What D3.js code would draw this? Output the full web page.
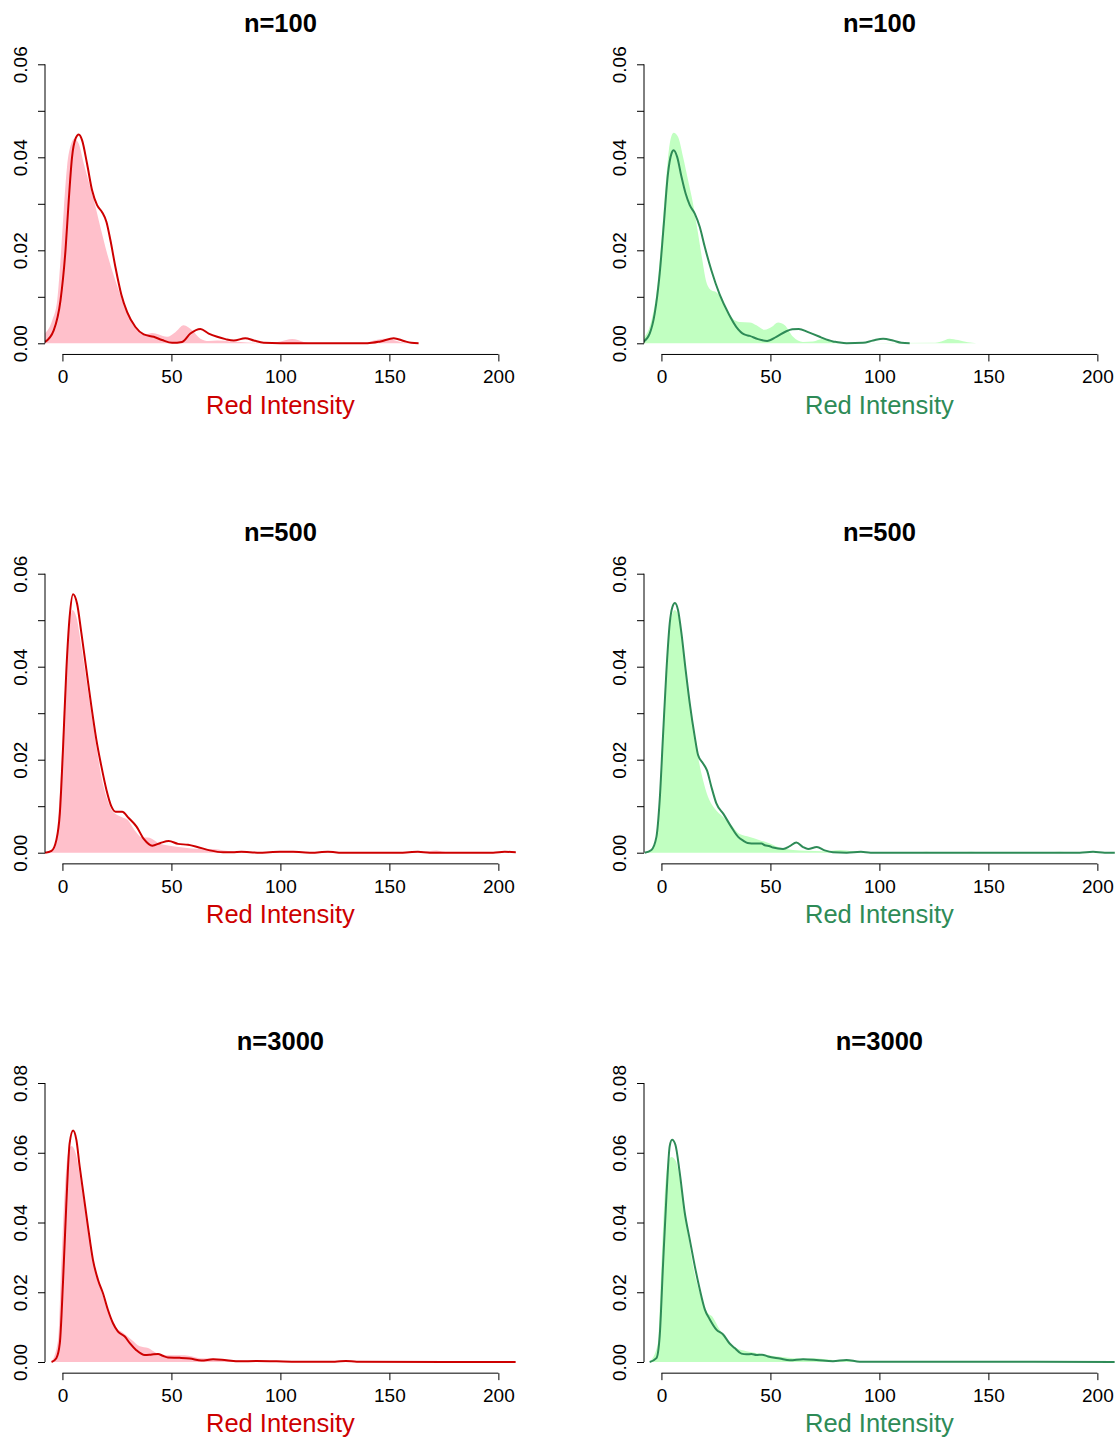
<!DOCTYPE html>
<html>
<head>
<meta charset="utf-8">
<script src="https://cdn.jsdelivr.net/npm/d3@7"></script>
<style>
  html, body { margin: 0; padding: 0; background: #ffffff; }
  svg text { font-family: "Liberation Sans", Arial, Helvetica, sans-serif; }
</style>
</head>
<body>
<svg id="chart" width="1117" height="1439"></svg>
<script>
// ---- density estimates, [intensity, density] ----
// n = 100
const pink100Fill = [[-8,0.0021],[-4.7,0.0049],[-2.4,0.0092],[-0.9,0.0178],[0.6,0.0286],[2.1,0.0379],[4.0,0.0429],[5.5,0.0440],[7.5,0.0429],[9.8,0.0386],[12.1,0.0347],[14.4,0.0308],[17.4,0.0250],[20.5,0.0193],[24.3,0.0135],[28.1,0.0085],[32.0,0.0046],[35.8,0.0024],[38.1,0.0019],[41.1,0.0022],[44.2,0.0019],[48.0,0.0014],[51.8,0.0024],[55.6,0.0039],[59.5,0.0028],[63.3,0.0010],[67.1,0.0005],[71.0,0.0006],[77.1,0.0004],[81.7,0.0003],[87.8,0.0001],[92.3,0],[96,0.0001],[100,0.0004],[105.4,0.0009],[110.7,0.0003],[115,0],[138.2,0],[142.8,0.0006],[147.4,0.0010],[151.2,0.0008],[155,0.0003],[159.6,0]];
const red100Line = [[-8,0.0003],[-4,0.0028],[-0.9,0.0092],[1.4,0.0200],[2.9,0.0308],[4.4,0.0400],[6.0,0.0440],[7.5,0.0449],[9.0,0.0437],[11.3,0.0386],[13.6,0.0329],[15.9,0.0297],[18.2,0.0282],[20.2,0.0261],[22.0,0.0222],[24.3,0.0164],[27.0,0.0105],[29.7,0.0067],[33.5,0.0035],[37.3,0.0019],[41.9,0.0014],[45.7,0.0007],[50.3,0.0001],[54.9,0.0003],[58.7,0.0021],[63.3,0.0031],[67.1,0.0021],[71.0,0.0014],[74.8,0.0009],[78.6,0.0006],[83.9,0.0011],[87.8,0.0006],[92.3,0.0001],[100,0],[140,0],[145.9,0.0004],[152.0,0.0011],[156.6,0.0005],[160,0.0001],[163.4,0]];
const green100Fill = [[-8.4,0.0010],[-4.6,0.0049],[-2.3,0.0107],[0,0.0222],[2.0,0.0344],[3.8,0.0429],[5.6,0.0453],[7.6,0.0444],[9.9,0.0401],[12.2,0.0351],[14.5,0.0300],[16.8,0.0236],[18.8,0.0178],[20.6,0.0132],[22.9,0.0114],[25.2,0.0110],[27.5,0.0096],[29.8,0.0075],[32.8,0.0053],[35.9,0.0046],[40.5,0.0045],[43.6,0.0039],[47.4,0.0029],[50.5,0.0035],[53.5,0.0045],[56.6,0.0039],[60.4,0.0014],[64.9,0.0003],[69.5,0.0004],[74.1,0.0010],[78.7,0.0004],[84,0.0001],[90,0],[124.6,0.0001],[128.4,0.0004],[132.2,0.0010],[136.1,0.0007],[140.6,0.0002],[144.5,0]];
const seagreen100Line = [[-8.4,0.0003],[-5.4,0.0021],[-3.1,0.0064],[-0.8,0.0150],[1.1,0.0257],[3.0,0.0365],[4.6,0.0408],[5.6,0.0415],[7.2,0.0401],[9.2,0.0358],[11.1,0.0322],[13.0,0.0297],[15.3,0.0279],[17.6,0.0250],[19.9,0.0207],[22.9,0.0157],[26.7,0.0105],[31.0,0.0062],[34.4,0.0035],[38.0,0.0019],[40.5,0.0016],[44.3,0.0009],[48.5,0.0005],[52.7,0.0014],[57.3,0.0026],[60.0,0.0030],[63.0,0.0031],[67.3,0.0024],[72.6,0.0014],[74.1,0.0011],[78.7,0.0004],[80.3,0.0003],[84.9,0],[92.5,0.0001],[97.1,0.0006],[101.7,0.0010],[106.2,0.0006],[110.1,0.0001],[113.9,0]];

// n = 500
const pink500Fill = [[-8,0],[-3.5,0.0012],[-2.0,0.0070],[-0.5,0.0185],[1.1,0.0342],[2.9,0.0471],[4.6,0.0522],[6.4,0.0507],[8.7,0.0443],[11.0,0.0371],[13.3,0.0299],[15.6,0.0228],[17.9,0.0163],[20.2,0.0120],[23.2,0.0088],[27.1,0.0077],[30.1,0.0070],[33.2,0.0048],[36.2,0.0034],[40.0,0.0032],[43.9,0.0021],[49.2,0.0015],[55.3,0.0011],[63,0.0008],[69.1,0.0008],[74,0.0005],[78,0.0003],[86,0.0001],[95,0.0001],[100,0.0002],[110,0.0001],[130,0],[165,0],[168,0.0003],[171.6,0.0005],[175,0.0002],[180,0],[208,0]];
const red500Line = [[-8,0],[-5.0,0.0004],[-2.8,0.0027],[-1.2,0.0084],[0.3,0.0228],[1.8,0.0393],[3.3,0.0507],[4.9,0.0556],[6.7,0.0536],[8.7,0.0472],[11.0,0.0393],[13.3,0.0314],[15.6,0.0242],[17.9,0.0185],[20.2,0.0135],[22.5,0.0099],[24.4,0.0088],[27.4,0.0088],[30.5,0.0074],[34.0,0.0056],[37.4,0.0029],[41.2,0.0015],[45.0,0.0021],[48.8,0.0025],[53.0,0.0019],[57.6,0.0017],[61.5,0.0013],[67.6,0.0005],[73.7,0.0001],[78,0.0001],[82.1,0.0002],[86,0.0001],[90.5,0],[95,0.0001],[99.7,0.0002],[105.8,0.0002],[110,0.0001],[115,0],[118,0.0001],[121.8,0.0002],[125,0.0001],[127.5,0],[155,0],[159,0.0001],[163.1,0.0002],[168.5,0],[197.6,0],[202.9,0.0002],[208.3,0.0001]];
const green500Fill = [[-7.7,0],[-3.9,0.0009],[-1.6,0.0056],[0,0.0199],[1.5,0.0342],[3.0,0.0450],[4.6,0.0507],[6.1,0.0522],[7.9,0.0507],[9.9,0.0443],[12.2,0.0357],[14.5,0.0278],[16.8,0.0206],[19.1,0.0156],[21.4,0.0120],[24.4,0.0095],[28.3,0.0077],[32.1,0.0059],[35.9,0.0040],[40.5,0.0034],[45.1,0.0027],[49.7,0.0020],[54.3,0.0011],[60.4,0.0006],[66.5,0.0004],[74.1,0.0003],[81.8,0.0006],[87.9,0.0003],[95,0.0001],[110,0],[118,0.0001],[121.6,0.0002],[125,0.0001],[138,0.0001],[142.2,0.0002],[146,0.0001],[178,0.0001],[182.7,0.0002],[187,0.0001],[208,0]];
const seagreen500Line = [[-7.7,0],[-4.6,0.0006],[-2.3,0.0034],[-0.8,0.0113],[0.7,0.0249],[2.3,0.0392],[3.8,0.0493],[5.0,0.0528],[6.2,0.0537],[7.6,0.0522],[9.2,0.0471],[11.1,0.0393],[13.0,0.0321],[15.3,0.0249],[16.8,0.0210],[19.1,0.0192],[20.9,0.0177],[22.9,0.0142],[25.2,0.0106],[28.5,0.0083],[32.1,0.0055],[35.2,0.0034],[37.5,0.0026],[39.5,0.0021],[41.3,0.0020],[43.6,0.0020],[45.9,0.0020],[47.4,0.0016],[49.7,0.0014],[51.2,0.0011],[55.8,0.0008],[58.9,0.0014],[61.9,0.0022],[65.0,0.0012],[67.3,0.0008],[71.3,0.0012],[74.9,0.0005],[78.7,0.0001],[85,0],[91.5,0.0002],[96,0],[191.9,0],[198,0.0002],[203.4,0],[208.5,0]];

// n = 3000
const pink3000Fill = [[-5,0],[-2.0,0.0064],[-0.5,0.0284],[1.1,0.0494],[2.6,0.0600],[4.1,0.0619],[6.4,0.0591],[8.7,0.0505],[11.0,0.0419],[14.0,0.0293],[17.1,0.0217],[20.2,0.0160],[24.0,0.0103],[27.8,0.0084],[31.7,0.0064],[35.5,0.0045],[39.3,0.0040],[43.1,0.0026],[49.2,0.0019],[56.1,0.0019],[63.0,0.0011],[70.6,0.0010],[78.3,0.0006],[90.5,0.0004],[101,0.0002],[120,0.0001],[208,0]];
const red3000Line = [[-5.0,0],[-2.8,0.0011],[-1.2,0.0054],[0.3,0.0235],[1.8,0.0455],[3.3,0.0627],[4.9,0.0664],[6.4,0.0637],[7.9,0.0561],[9.8,0.0475],[11.7,0.0389],[14.0,0.0293],[16.3,0.0236],[18.6,0.0197],[20.9,0.0149],[23.2,0.0111],[25.5,0.0087],[28.6,0.0073],[30.9,0.0054],[33.9,0.0034],[37.8,0.0020],[40.5,0.0021],[43.9,0.0023],[46,0.0018],[48.4,0.0013],[53.8,0.0012],[58.4,0.0010],[63.8,0.0004],[69.1,0.0008],[75.2,0.0005],[81.3,0.0002],[89.0,0.0003],[98.2,0.0002],[108,0.0001],[125,0.0001],[130,0.0003],[135,0.0001],[208,0]];
const green3000Fill = [[-5.4,0],[-1.6,0.0054],[0,0.0275],[1.5,0.0476],[3.0,0.0571],[4.6,0.0588],[6.6,0.0576],[9.2,0.0494],[11.5,0.0399],[14.5,0.0275],[17.6,0.0198],[20.6,0.0146],[23.7,0.0127],[26.7,0.0093],[30.6,0.0060],[34.4,0.0040],[39.0,0.0031],[45.1,0.0024],[51.2,0.0017],[57.3,0.0013],[63.4,0.0010],[69.5,0.0011],[78.7,0.0006],[91,0.0003],[104,0.0002],[130,0.0001],[208,0]];
const seagreen3000Line = [[-5.4,0],[-2.3,0.0011],[-0.8,0.0074],[0.7,0.0275],[2.3,0.0476],[3.8,0.0619],[4.9,0.0637],[6.4,0.0623],[8.4,0.0542],[10.7,0.0428],[13.0,0.0351],[15.3,0.0275],[17.6,0.0208],[19.9,0.0151],[22.2,0.0122],[25.2,0.0093],[28.3,0.0079],[31.3,0.0053],[33.6,0.0040],[36.7,0.0024],[39,0.0022],[41.3,0.0023],[43.6,0.0020],[46.1,0.0021],[48.9,0.0016],[54.3,0.0010],[58.9,0.0005],[65.0,0.0008],[71.1,0.0006],[78.7,0.0002],[84.9,0.0006],[91.0,0.0001],[101,0.0001],[150,0.0001],[208,0]];

// ---- labels and axis settings ----
const rowTitles = ["n=100", "n=500", "n=3000"];
const rowYMax = [0.06, 0.06, 0.08];
const rowYStep = [0.01, 0.01, 0.02];
const xTicks = [0, 50, 100, 150, 200];
const xLimits = [0, 200];
const xLabel = "Red Intensity";

const fills = [[pink100Fill, green100Fill], [pink500Fill, green500Fill], [pink3000Fill, green3000Fill]];
const lines = [[red100Line, seagreen100Line], [red500Line, seagreen500Line], [red3000Line, seagreen3000Line]];
const fillColors = ["#FFC0CB", "#C1FFC1"];
const lineColors = ["#CD0000", "#2E8B57"];

// ---- layout ----
const colLeft = [45, 644];
const rowZero = [343.3, 852.7, 1362];
const axisSpan = 279;           // pixels from 0 to the top y tick
const plotW = 470.8;
const pad = 0.04 * axisSpan;    // 4% extension of the plot region

const svg = d3.select("#chart");
const defs = svg.append("defs");

rowTitles.forEach((title, r) => {
  [0, 1].forEach(c => {
    const left = colLeft[c];
    const zero = rowZero[r];
    const ymax = rowYMax[r];

    const xRange = xLimits[1] - xLimits[0];
    const x = d3.scaleLinear()
      .domain([xLimits[0] - 0.04 * xRange, xLimits[1] + 0.04 * xRange])
      .range([left, left + plotW]);
    const y = d3.scaleLinear().domain([0, ymax]).range([zero, zero - axisSpan]);

    const top = zero - axisSpan - pad;
    const bottom = zero + pad;
    const clipId = `clip-${r}-${c}`;
    defs.append("clipPath").attr("id", clipId)
      .append("rect").attr("x", left).attr("y", top)
      .attr("width", plotW).attr("height", bottom - top);

    const g = svg.append("g");
    const plot = g.append("g").attr("clip-path", `url(#${clipId})`);

    const area = d3.area()
      .x(d => x(d[0])).y0(y(0)).y1(d => y(d[1]))
      .curve(d3.curveMonotoneX);
    const line = d3.line()
      .x(d => x(d[0])).y(d => y(d[1]))
      .curve(d3.curveMonotoneX);

    plot.append("path").datum(fills[r][c])
      .attr("d", area).attr("fill", fillColors[c]).attr("stroke", "none");
    plot.append("path").datum(lines[r][c])
      .attr("d", line).attr("fill", "none")
      .attr("stroke", lineColors[c]).attr("stroke-width", 2)
      .attr("stroke-linejoin", "round");

    // x axis
    const xAxisG = g.append("g").attr("transform", `translate(0,${bottom})`)
      .call(d3.axisBottom(x).tickValues(xTicks).tickSize(7).tickSizeOuter(0).tickFormat(d3.format("d")));
    xAxisG.select(".domain").remove();
    xAxisG.append("line")
      .attr("x1", x(xTicks[0])).attr("x2", x(xTicks[xTicks.length - 1]))
      .attr("stroke", "#000");
    xAxisG.selectAll(".tick line").attr("stroke", "#000");
    xAxisG.selectAll(".tick text")
      .attr("y", 29).attr("dy", 0)
      .attr("fill", "#000").style("font-size", "19px")
      .style("font-family", '"Liberation Sans", Arial, sans-serif');

    // y axis
    const step = rowYStep[r];
    const yTicks = d3.range(0, Math.round(ymax / step) + 1).map(i => +(i * step).toFixed(3));
    const fmt = d3.format(".2f");
    const yAxisG = g.append("g").attr("transform", `translate(${left},0)`)
      .call(d3.axisLeft(y).tickValues(yTicks).tickSize(7).tickSizeOuter(0)
        .tickFormat(d => (Math.round(d * 100) % 2 === 0 ? fmt(d) : "")));
    yAxisG.select(".domain").remove();
    yAxisG.append("line")
      .attr("y1", y(0)).attr("y2", y(ymax))
      .attr("stroke", "#000");
    yAxisG.selectAll(".tick line").attr("stroke", "#000");
    yAxisG.selectAll(".tick text")
      .attr("transform", "rotate(-90)")
      .attr("x", 0).attr("y", -18).attr("dy", 0)
      .attr("text-anchor", "middle")
      .attr("fill", "#000").style("font-size", "19px")
      .style("font-family", '"Liberation Sans", Arial, sans-serif');

    const cx = left + plotW / 2;
    // title
    g.append("text")
      .attr("x", cx).attr("y", zero - 311.8)
      .attr("text-anchor", "middle")
      .style("font-size", "25.5px").style("font-weight", "bold")
      .attr("fill", "#000")
      .text(title);
    // x label
    g.append("text")
      .attr("x", cx).attr("y", zero + 70.2)
      .attr("text-anchor", "middle")
      .style("font-size", "25.5px")
      .attr("fill", lineColors[c])
      .text(xLabel);
  });
});
</script>
</body>
</html>
